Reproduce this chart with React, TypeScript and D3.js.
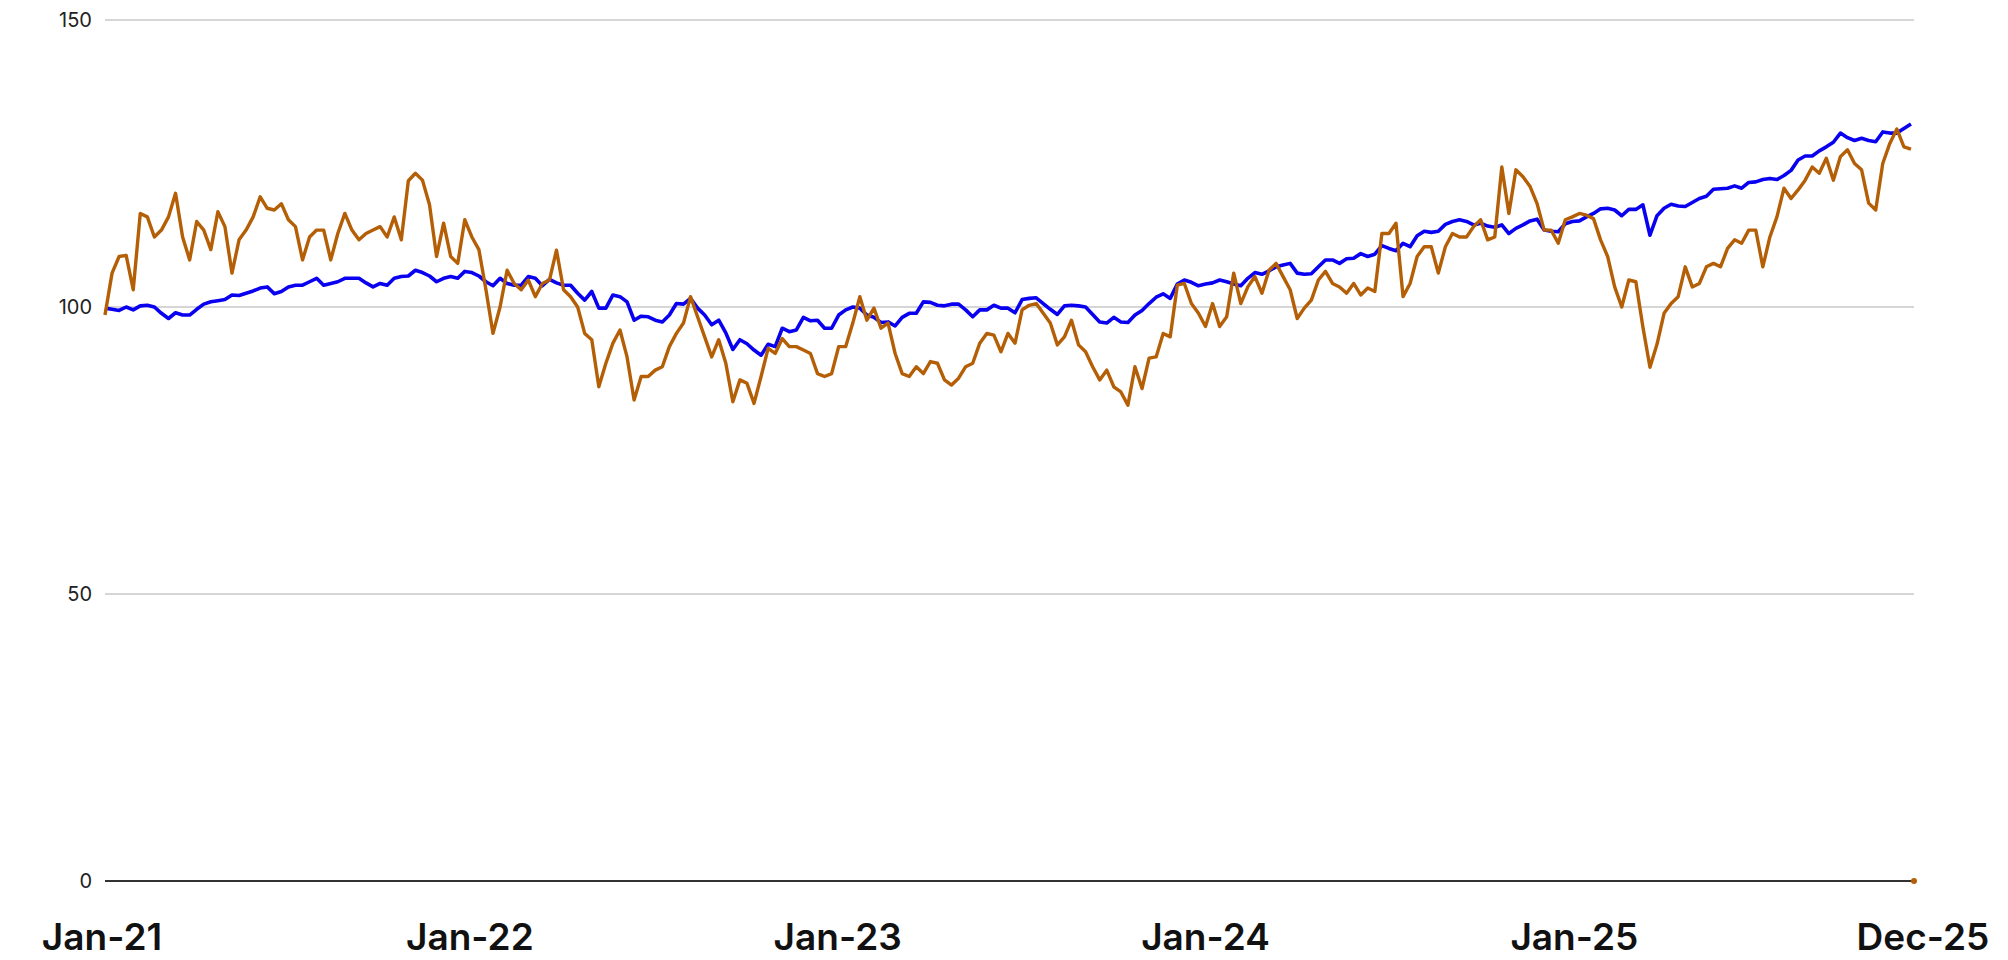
import * as d3 from 'd3';

// Weekly closes, both indexed to 100 at the start
const startDate = new Date(Date.UTC(2021, 0, 1));
const endDate = new Date(Date.UTC(2025, 11, 1));

const blueValues = [
  99.8, 99.6, 99.4, 100, 99.5, 100.2, 100.3, 100, 98.9, 98,
  99, 98.6, 98.6, 99.6, 100.5, 100.9, 101.1, 101.3, 102.1, 102,
  102.4, 102.8, 103.3, 103.5, 102.3, 102.7, 103.5, 103.8, 103.8, 104.4,
  105, 103.8, 104.1, 104.4, 105, 105, 105, 104.2, 103.5, 104.1,
  103.8, 105, 105.3, 105.4, 106.4, 106, 105.4, 104.4, 105, 105.3,
  105, 106.2, 106, 105.4, 104.4, 103.7, 105, 104.1, 103.8, 103.8,
  105.3, 105, 103.7, 104.8, 104.2, 103.8, 103.8, 102.4, 101.2, 102.7,
  99.8, 99.8, 102.1, 101.8, 100.9, 97.7, 98.4, 98.3, 97.7, 97.4,
  98.6, 100.6, 100.5, 101.5, 99.8, 98.6, 96.9, 97.7, 95.5, 92.6,
  94.3, 93.6, 92.5, 91.6, 93.5, 93.1, 96.3, 95.7, 96, 98.2,
  97.6, 97.7, 96.3, 96.3, 98.6, 99.5, 100, 99.8, 98.6, 98.2,
  97.3, 97.4, 96.7, 98.2, 98.9, 98.9, 100.9, 100.8, 100.3, 100.2,
  100.5, 100.5, 99.5, 98.3, 99.5, 99.5, 100.3, 99.8, 99.8, 99,
  101.3, 101.5, 101.6, 100.6, 99.6, 98.7, 100.2, 100.3, 100.2, 100,
  98.7, 97.4, 97.2, 98.2, 97.4, 97.3, 98.6, 99.4, 100.6, 101.7,
  102.3, 101.5, 104, 104.7, 104.3, 103.7, 104, 104.2, 104.7, 104.4,
  104, 103.7, 105, 106, 105.7, 106.3, 107, 107.3, 107.6, 105.9,
  105.7, 105.8, 107, 108.2, 108.2, 107.6, 108.4, 108.5, 109.3, 108.8,
  109.2, 110.7, 110.2, 109.8, 111.1, 110.5, 112.4, 113.2, 113, 113.2,
  114.4, 114.9, 115.2, 114.9, 114.3, 114.6, 114.1, 113.9, 114.3, 112.8,
  113.7, 114.3, 115, 115.3, 113.4, 113.2, 113.1, 114.5, 114.9, 115,
  115.7, 116.3, 117.1, 117.2, 116.9, 115.9, 117, 117, 117.8, 112.5,
  115.9, 117.2, 117.9, 117.6, 117.5, 118.2, 118.9, 119.3, 120.5, 120.6,
  120.7, 121.1, 120.7, 121.7, 121.8, 122.2, 122.4, 122.2, 122.9, 123.8,
  125.6, 126.3, 126.3, 127.2, 127.9, 128.7, 130.3, 129.5, 129, 129.4,
  129, 128.8, 130.5, 130.3, 130.3, 131.1, 131.9,
];

const orangeValues = [
  98.6, 105.9, 108.8, 109, 103, 116.3, 115.7, 112.2, 113.4, 115.7,
  119.8, 112.2, 108.2, 114.9, 113.4, 110, 116.6, 114, 105.9, 111.7,
  113.4, 115.7, 119.2, 117.2, 116.9, 118, 115.2, 114, 108.2, 112.2,
  113.4, 113.4, 108.2, 112.8, 116.3, 113.4, 111.7, 112.8, 113.4, 114,
  112.2, 115.7, 111.7, 122, 123.3, 122.1, 117.8, 108.8, 114.6, 108.8,
  107.6, 115.2, 112.2, 110, 103, 95.4, 100, 106.4, 104.1, 103,
  104.7, 101.8, 104.1, 104.7, 109.9, 103, 101.8, 100, 95.4, 94.3,
  86.1, 90.2, 93.7, 96, 91.3, 83.8, 87.9, 87.9, 89, 89.6,
  93.1, 95.4, 97.2, 101.8, 98.3, 94.8, 91.3, 94.3, 90.2, 83.5,
  87.3, 86.7, 83.2, 87.9, 92.8, 91.9, 94.5, 93.1, 93.1, 92.5,
  91.9, 88.4, 87.9, 88.4, 93.1, 93.1, 97.2, 101.8, 97.7, 99.8,
  96.3, 97.2, 91.9, 88.4, 87.9, 89.6, 88.4, 90.5, 90.2, 87.3,
  86.4, 87.6, 89.6, 90.2, 93.7, 95.4, 95.1, 92.2, 95.4, 93.7,
  99.5, 100.3, 100.6, 98.9, 97.2, 93.4, 94.8, 97.7, 93.4, 92.2,
  89.6, 87.3, 89, 86.1, 85.2, 82.9, 89.6, 85.8, 91.1, 91.3,
  95.4, 94.8, 103.8, 104.1, 100.6, 98.9, 96.6, 100.6, 96.6, 98.3,
  105.9, 100.6, 103.5, 105.3, 102.4, 106.4, 107.6, 105.3, 103, 98,
  99.8, 101.2, 104.7, 106.2, 104.1, 103.5, 102.4, 104.1, 102.1, 103.3,
  102.7, 112.8, 112.8, 114.6, 101.8, 104.1, 108.8, 110.5, 110.5, 105.9,
  110.5, 112.8, 112.2, 112.2, 114, 115.2, 111.7, 112.2, 124.4, 116.3,
  123.9, 122.7, 121, 118, 113.4, 113.4, 111.1, 115.2, 115.7, 116.3,
  116, 115.4, 111.7, 108.8, 103.5, 100, 104.7, 104.4, 96.5, 89.5,
  93.5, 98.9, 100.6, 101.8, 107, 103.5, 104.1, 107, 107.6, 107,
  110.2, 111.7, 111.1, 113.4, 113.4, 107, 112.2, 115.7, 120.7, 118.9,
  120.4, 122.1, 124.4, 123.3, 125.9, 122.1, 126.2, 127.4, 125, 123.9,
  118.1, 116.9, 125, 128.5, 131, 127.9, 127.5,
];

// stray last print of the orange series, sitting on the zero line
const orangeLastValue = 0;

const yTicks = [0, 50, 100, 150];
const xTickDates = [
  new Date(Date.UTC(2021, 0, 1)),
  new Date(Date.UTC(2022, 0, 1)),
  new Date(Date.UTC(2023, 0, 1)),
  new Date(Date.UTC(2024, 0, 1)),
  new Date(Date.UTC(2025, 0, 1)),
  new Date(Date.UTC(2025, 11, 1)),
];

const width = 2008;
const height = 960;
const margin = { top: 20, right: 94, bottom: 79, left: 105 };

export default function App() {
  const x = d3.scaleUtc()
    .domain([startDate, endDate])
    .range([margin.left, width - margin.right]);

  const y = d3.scaleLinear()
    .domain([0, 150])
    .range([height - margin.bottom, margin.top]);

  const weekDate = (i: number) => d3.utcDay.offset(startDate, i * 7);

  const line = d3.line<number>()
    .x((_, i) => x(weekDate(i)))
    .y(d => y(d));

  const fmt = d3.utcFormat('%b-%y');

  return (
    <div style={{ position: 'fixed', left: 0, top: 0, background: '#fff' }}>
      <svg width={width} height={height} style={{ display: 'block' }}>
        {/* grid */}
        {yTicks.filter(t => t > 0).map(t => (
          <line
            key={t}
            x1={margin.left}
            x2={width - margin.right}
            y1={y(t)}
            y2={y(t)}
            stroke="#c9c9c9"
            strokeWidth={1.5}
          />
        ))}
        {yTicks.map(t => (
          <text
            key={'l' + t}
            x={margin.left - 13}
            y={y(t)}
            dy="0.36em"
            textAnchor="end"
            fontFamily="Inter, 'Noto Sans', sans-serif"
            fontSize={20}
            fill="#222"
          >
            {t}
          </text>
        ))}

        <path d={line(blueValues) || ''} fill="none" stroke="#0a00f0" strokeWidth={3.6} strokeLinejoin="round" />
        <path d={line(orangeValues) || ''} fill="none" stroke="#b45f06" strokeWidth={3.4} strokeLinejoin="round" />

        {/* zero axis */}
        <line
          x1={margin.left}
          x2={width - margin.right}
          y1={y(0)}
          y2={y(0)}
          stroke="#333"
          strokeWidth={2}
        />
        <circle cx={x(endDate)} cy={y(orangeLastValue)} r={3} fill="#b45f06" />

        {xTickDates.map((d, i) => (
          <text
            key={'x' + i}
            x={x(d) + (i === xTickDates.length - 1 ? 9 : -3)}
            y={950}
            textAnchor="middle"
            fontFamily="Inter, 'Noto Sans', sans-serif"
            fontWeight={600}
            fontSize={37}
            fill="#111"
          >
            {fmt(d)}
          </text>
        ))}
      </svg>
    </div>
  );
}
